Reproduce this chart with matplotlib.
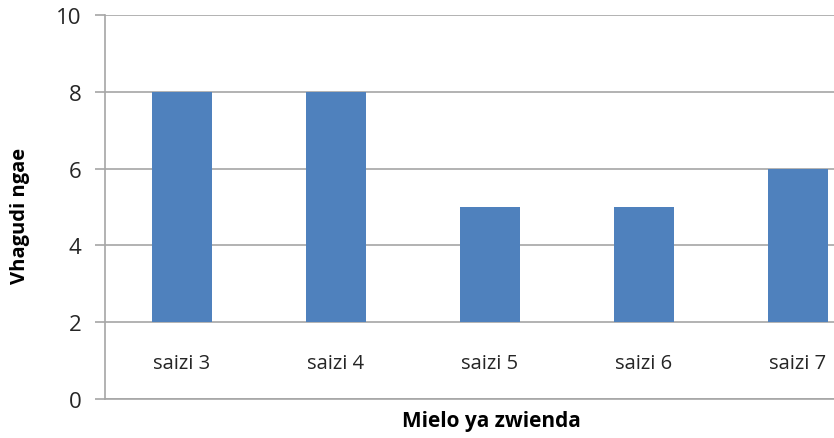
import matplotlib
matplotlib.use("Agg")
import matplotlib.pyplot as plt

categories = ["saizi 3", "saizi 4", "saizi 5", "saizi 6", "saizi 7"]
values = [8, 8, 5, 5, 6]
base = 2
yticks = [0, 2, 4, 6, 8, 10]

plt.rcParams['font.family'] = ['Open Sans', 'DejaVu Sans']

fig = plt.figure(figsize=(8.34, 4.39), dpi=100)
ax = fig.add_axes([105/834, 39/439, 1 - 105/834, (400-16)/439])

grid_c = "#a6a6a6"
x = list(range(len(categories)))
ax.bar(x, [v - base for v in values], bottom=base, width=0.39,
       color="#4F81BD", zorder=3)

for i, c in enumerate(categories):
    ax.text(i, 0.93, c, ha="center", va="center", fontsize=14.5, color="#262626")

ax.set_ylim(0, 10)
ax.set_xlim(-0.5, 4.235)
ax.set_yticks(yticks)
ax.set_yticklabels([str(t) for t in yticks], fontsize=16, color="#262626")
ax.set_xticks([])
ax.yaxis.grid(True, color=grid_c, linewidth=1.2, zorder=0)
ax.set_axisbelow(True)
for s in ["top", "right"]:
    ax.spines[s].set_visible(False)
for s in ["left", "bottom"]:
    ax.spines[s].set_color(grid_c)
    ax.spines[s].set_linewidth(1.2)
ax.tick_params(axis="y", length=7, color=grid_c, width=1.2, pad=10)

fig.text(20/834, 1 - 216/439, "Vhagudi ngae", rotation=90, ha="center", va="center",
         fontsize=14.5, fontweight="bold", color="#000000")
fig.text(491/834, 1 - 422/439, "Mielo ya zwienda", ha="center", va="center",
         fontsize=15, fontweight="bold", color="#000000")

fig.savefig("out.png", dpi=100)
